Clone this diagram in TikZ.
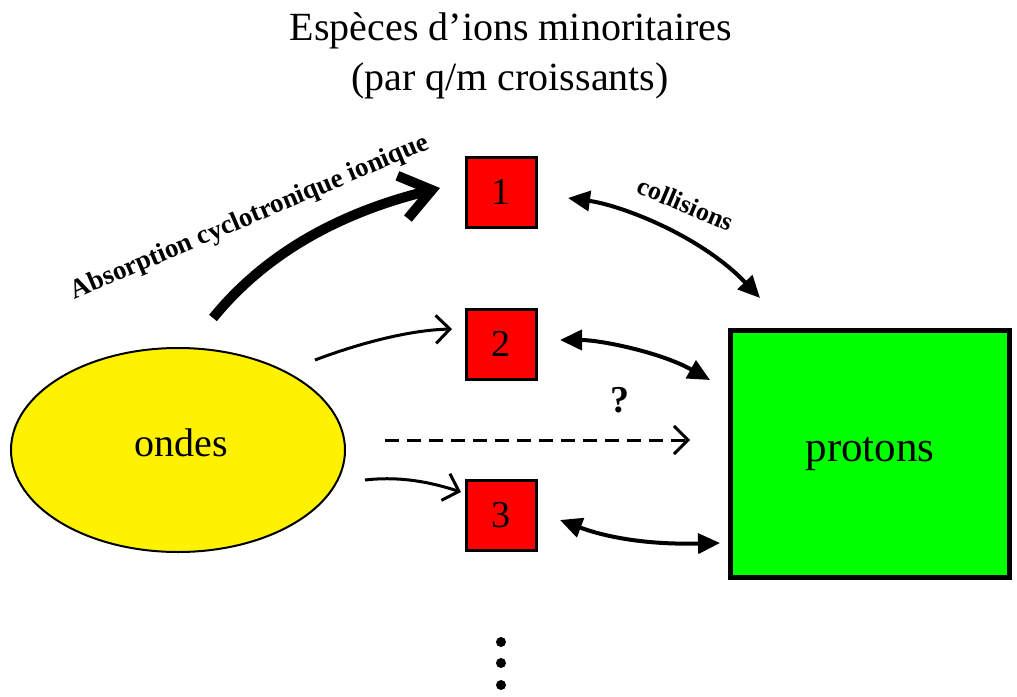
\documentclass[tikz,border=0pt]{standalone}
\usepackage{fontspec}
\setmainfont{Liberation Serif}
\usetikzlibrary{arrows.meta}
\begin{document}
\begin{tikzpicture}[x=1pt,y=-1pt,
  sq/.style={draw=black, line width=3pt, fill=red, minimum width=70pt, minimum height=70pt, inner sep=0pt, font=\fontsize{38}{40}\selectfont},
  prot/.style={draw=black, line width=5pt, fill=green, minimum width=279pt, minimum height=247pt, inner sep=0pt, font=\fontsize{43}{46}\selectfont},
  big/.style={font=\fontsize{40}{48}\selectfont},
  lab/.style={font=\bfseries\fontsize{27}{30}\selectfont},
  thickarrow/.style={line width=10pt, -{Straight Barb[length=30pt,width=44pt]}},
  thinarrow/.style={line width=3pt, -{Straight Barb[length=14pt,width=28pt]}},
  coll/.style={line width=4pt, {Triangle[length=22pt,width=20pt]}-{Triangle[length=22pt,width=20pt]}},
  dot/.style={fill=black}
]
\useasboundingbox (0,0) rectangle (1017,696);
% title
\node[big, anchor=base] (t1) at (511,40) {Espèces d’ions minoritaires};
\node[big, anchor=base] (t2) at (510,90) {(par q/m croissants)};
% ellipse
\fill[yellow, draw=black, line width=2pt] (178,450) ellipse [x radius=167, y radius=102];
\node[big] (ond) at (181,443) {ondes};
% boxes
\node[sq] (b1) at (501,192) {1};
\node[sq] (b2) at (501,344) {2};
\node[sq] (b3) at (501,515) {3};
\node[prot] (pro) at (870,454) {protons};
% coordinates
\coordinate (a0) at (213,318);
\coordinate (a1) at (440,188);
\coordinate (c0) at (315,360);
\coordinate (c1) at (452,329);
\coordinate (d0) at (365,480);
\coordinate (d1) at (461,492);
\coordinate (e0) at (385,440);
\coordinate (e1) at (690,440);
\coordinate (p1) at (568,198);
\coordinate (q1) at (760,298);
\coordinate (p2) at (560,340);
\coordinate (q2) at (710,380);
\coordinate (p3) at (560,520);
\coordinate (q3) at (720,543);
% arrows
\draw[thickarrow] (a0) .. controls (260,260) and (330,215) .. (a1);
\node[lab, rotate=23] (abs) at (250,218) {Absorption cyclotronique ionique};
\draw[thinarrow] (c0) .. controls (360,343) and (410,330) .. (c1);
\draw[thinarrow] (d0) .. controls (400,476) and (430,482) .. (d1);
\draw[thinarrow, dash pattern=on 14pt off 8pt] (e0) -- (e1);
\node[font=\bfseries\fontsize{38}{40}\selectfont] (qm) at (620,400) {?};
\draw[coll] (p1) .. controls (620,205) and (700,235) .. (q1);
\node[font=\bfseries\fontsize{26}{28}\selectfont, rotate=-23] (colab) at (686,204) {collisions};
\draw[coll] (p2) .. controls (600,340) and (660,352) .. (q2);
\draw[coll] (p3) .. controls (600,535) and (640,545) .. (q3);
% dots
\fill[dot] (501,642) circle (5);
\fill[dot] (501,663) circle (5);
\fill[dot] (501,685) circle (5);
\end{tikzpicture}
\end{document}
